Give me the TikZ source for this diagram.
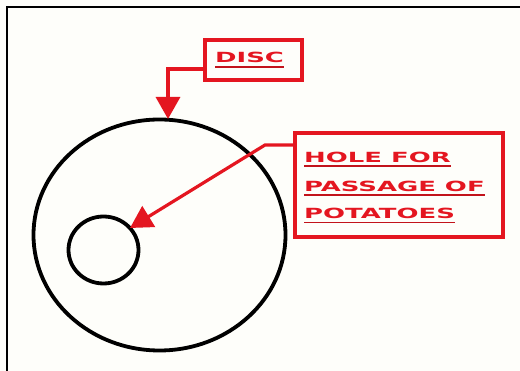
\documentclass[tikz,border=0pt]{standalone}
\usepackage{fontspec}
\usetikzlibrary{arrows.meta,shapes.geometric}
\newfontfamily\cadfont{DejaVu Sans Bold}[FakeStretch=1.85]
\definecolor{cadred}{RGB}{228,22,32}
\definecolor{bgcol}{RGB}{254,254,250}
\tikzset{
  labelbox/.style={draw=cadred,line width=3.8pt,inner sep=0pt},
  leader/.style={draw=cadred,line width=3.2pt},
  tipped/.style={-{Triangle[length=22pt,width=24pt]}},
  ring/.style={draw=black,line width=3.8pt,ellipse,inner sep=0pt},
  cadtext/.style={text=cadred,font=\cadfont\fontsize{14}{14}\selectfont,inner sep=0pt,anchor=base west},
  uline/.style={draw=cadred!85!black,line width=1.4pt}
}
\begin{document}
\begin{tikzpicture}[x=1pt,y=-1pt]
\fill[bgcol] (0,0) rectangle (520,371);
\useasboundingbox (0,0) rectangle (520,371);
\draw[line width=2.4pt] (7,371) -- (7,7) -- (520,7);
% circles
\node[ring,minimum width=252pt,minimum height=231pt] (disc) at (159.5,235) {};
\node[ring,minimum width=70pt,minimum height=67pt] (hole) at (103.5,250) {};
% DISC label
\node[labelbox,minimum width=97pt,minimum height=40pt] (discbox) at (253.5,60) {};
\node[cadtext] (dt) at (215,63) {DISC};
\draw[uline] ([yshift=-4pt]dt.base west) -- ([yshift=-4pt]dt.base east);
% HOLE label
\node[labelbox,minimum width=208pt,minimum height=104pt] (holebox) at (399,185) {};
\node[cadtext] (h1) at (304,162.5) {HOLE FOR};
\node[cadtext] (h2) at (304,191.5) {PASSAGE OF};
\node[cadtext] (h3) at (304,219) {POTATOES};
\foreach \t in {h1,h2,h3}
  \draw[uline] ([yshift=-3.5pt]\t.base west) -- ([yshift=-3.5pt]\t.base east);
% leaders
\coordinate (dk) at (168,69);
\coordinate (dtip) at (168,119);
\draw[leader,tipped] (discbox.west |- dk) -- (dk) -- (dtip);
\coordinate (hk) at (265,145);
\coordinate (htip) at (130,228);
\draw[leader,tipped] (holebox.west |- hk) -- (hk) -- (htip);
\end{tikzpicture}
\end{document}
